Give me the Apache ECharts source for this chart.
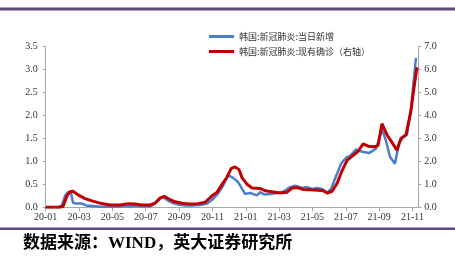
<!DOCTYPE html>
<html>
<head>
<meta charset="utf-8">
<script src="https://cdn.jsdelivr.net/npm/echarts@6/dist/echarts.min.js"></script>
<style>
html,body{margin:0;padding:0;background:#fff;}
#c{width:455px;height:262px;}
</style>
</head>
<body>
<div id="c"></div>
<script>
// Time is given in months since 2020-01-01
var seriesNames = ['韩国:新冠肺炎:当日新增', '韩国:新冠肺炎:现有确诊（右轴）'];
var sourceText = '数据来源：WIND，英大证券研究所';

// 当日新增 (left axis)
var blueMonths = [0,0.74,0.98,1.16,1.34,1.52,1.64,1.82,2.18,2.42,
  2.78,3.26,3.86,4.46,5.06,5.66,6.26,6.56,6.86,7.04,
  7.28,7.58,7.94,8.36,8.78,9.26,9.68,10.04,10.34,10.64,
  10.94,11.24,11.54,11.78,11.96,12.26,12.68,12.86,13.10,13.46,
  13.88,14.24,14.66,14.96,15.38,15.68,15.98,16.28,16.58,16.88,
  17.12,17.42,17.72,18.02,18.26,18.62,18.98,19.40,19.82,20.17,
  20.41,20.65,20.95,21.19,21.43,21.67,21.91,22.21];
var blueValues = [0,0,0.05,0.25,0.33,0.30,0.10,0.08,0.08,0.04,
  0.03,0.01,0.01,0.02,0.03,0.02,0.02,0.08,0.20,0.22,
  0.16,0.10,0.06,0.04,0.04,0.05,0.08,0.18,0.30,0.47,
  0.70,0.64,0.55,0.40,0.29,0.31,0.26,0.33,0.28,0.29,
  0.31,0.34,0.44,0.47,0.42,0.44,0.40,0.42,0.40,0.32,
  0.40,0.68,0.95,1.08,1.12,1.26,1.21,1.18,1.28,1.70,
  1.45,1.10,0.95,1.40,1.52,1.58,2.15,3.25];

// 现有确诊 (right axis)
var redMonths = [0,0.86,1.04,1.28,1.46,1.64,1.94,2.36,2.78,3.26,
  3.86,4.46,4.94,5.36,5.78,6.26,6.56,6.86,7.10,7.34,
  7.76,8.18,8.66,9.14,9.56,9.98,10.28,10.58,10.88,11.12,
  11.36,11.60,11.78,12.08,12.38,12.86,13.16,13.58,14.06,14.48,
  14.78,15.08,15.44,15.86,16.34,16.64,16.88,17.18,17.48,17.78,
  18.08,18.44,18.74,19.04,19.34,19.76,19.94,20.17,20.47,20.83,
  21.07,21.31,21.61,21.91,22.09,22.27];
var redValues = [0,0,0.04,0.5,0.68,0.70,0.54,0.38,0.28,0.18,
  0.10,0.10,0.16,0.14,0.10,0.10,0.18,0.40,0.48,0.38,
  0.24,0.18,0.14,0.16,0.22,0.50,0.66,1.00,1.32,1.68,
  1.76,1.64,1.28,1.00,0.84,0.82,0.72,0.68,0.62,0.66,
  0.84,0.86,0.78,0.76,0.74,0.72,0.62,0.70,1.04,1.60,
  2.04,2.26,2.44,2.76,2.66,2.64,2.70,3.64,3.16,2.76,
  2.48,3.00,3.16,4.20,5.20,6.10];

function pairs(t, v){ return t.map(function(x,i){ return [x, v[i]]; }); }
function monthLabel(v){
  if (Math.abs(v - Math.round(v)) > 1e-6 || Math.round(v) % 2 !== 0) return '';
  var m = Math.round(v);
  var yy = 20 + Math.floor(m / 12);
  var mm = (m % 12) + 1;
  return yy + '-' + (mm < 10 ? '0' + mm : mm);
}

var axisColor = '#A6A6A6';
var labelFont = {color:'#333', fontFamily:'"Liberation Serif", "Times New Roman", serif', fontSize:10};

var chart = echarts.init(document.getElementById('c'), null, {renderer:'canvas'});
chart.setOption({
  animation:false,
  backgroundColor:'#fff',
  grid:{left:45.7, right:36.7, top:46.5, bottom:54.7, containLabel:false},
  legend:{
    orient:'vertical', left:204, top:27, itemWidth:25, itemHeight:3, itemGap:6,
    icon:'rect',
    textStyle:{color:'#333', fontSize:9, fontFamily:'"Noto Sans CJK SC", sans-serif'},
    data:seriesNames
  },
  xAxis:{
    type:'value', min:0, max:22.35, interval:2,
    axisLine:{show:true, lineStyle:{color:axisColor, width:1}},
    axisTick:{show:true, length:4, lineStyle:{color:axisColor}},
    splitLine:{show:false},
    axisLabel:Object.assign({margin:5, formatter:monthLabel, showMaxLabel:false}, labelFont)
  },
  yAxis:[{
    type:'value', min:0, max:3.5, interval:0.5, position:'left',
    axisLine:{show:true, lineStyle:{color:axisColor, width:1}},
    axisTick:{show:true, length:3, lineStyle:{color:axisColor}},
    splitLine:{show:false},
    axisLabel:Object.assign({margin:8, formatter:function(v){return v.toFixed(1);}}, labelFont)
  },{
    type:'value', min:0, max:7, interval:1, position:'right',
    axisLine:{show:true, lineStyle:{color:axisColor, width:1}},
    axisTick:{show:true, length:3, lineStyle:{color:axisColor}},
    splitLine:{show:false},
    axisLabel:Object.assign({margin:6, formatter:function(v){return v.toFixed(1);}}, labelFont)
  }],
  series:[{
    name:seriesNames[0], type:'line', yAxisIndex:0, showSymbol:false, symbol:'none',
    lineStyle:{color:'#4A7EC9', width:2.5}, itemStyle:{color:'#4A7EC9'},
    data:pairs(blueMonths, blueValues)
  },{
    name:seriesNames[1], type:'line', yAxisIndex:1, showSymbol:false, symbol:'none',
    lineStyle:{color:'#C00000', width:3}, itemStyle:{color:'#C00000'},
    data:pairs(redMonths, redValues)
  }],
  graphic:[
    {type:'rect', left:0, top:7.5, shape:{width:455, height:3}, style:{fill:'#5E4A84'}},
    {type:'rect', left:0, top:227.5, shape:{width:455, height:2.5}, style:{fill:'#5E4A84'}},
    {type:'text', left:23, top:235.5, style:{text:sourceText, fill:'#000', font:'bold 17px "Liberation Serif", "Noto Sans CJK SC", serif'}}
  ]
});
</script>
</body>
</html>
